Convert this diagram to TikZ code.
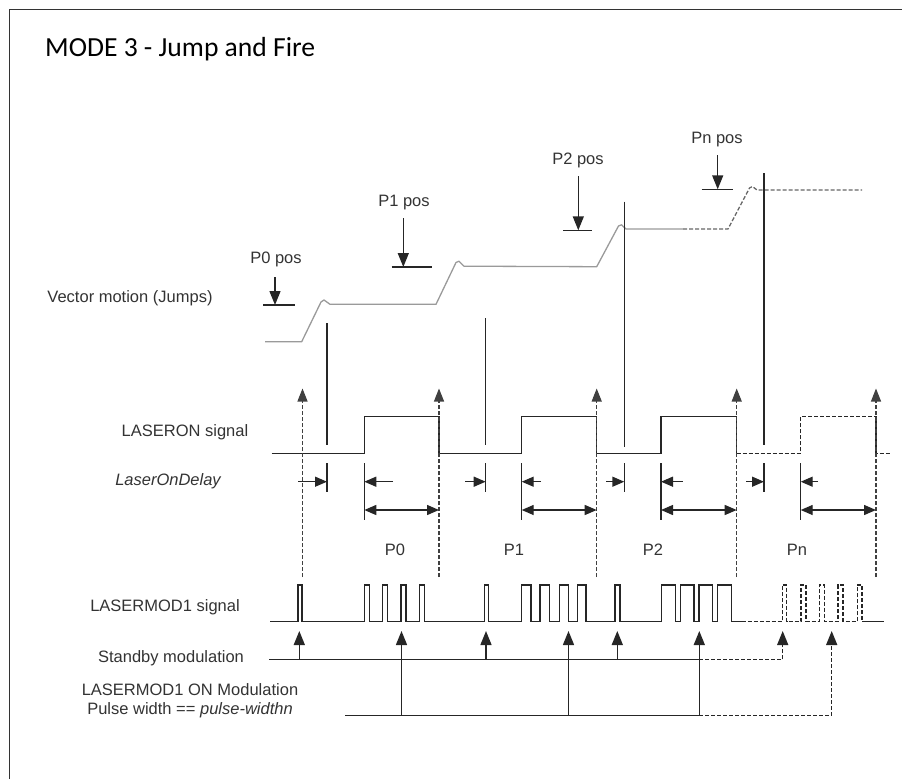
\documentclass[tikz,border=0pt]{standalone}
\usepackage{fontspec}
\setmainfont{Liberation Sans}
\newfontfamily\titlefont{Carlito}
\usetikzlibrary{arrows.meta}
\definecolor{txt}{HTML}{333333}
\definecolor{curve}{HTML}{9A9A9A}
\tikzset{
  sig/.style={line width=1.4pt, draw=black!85},
  dsig/.style={sig, dash pattern=on 4pt off 2pt},
  vec/.style={line width=1.3pt, draw=curve, line join=round},
  dvec/.style={line width=1.3pt, draw=black!60, dash pattern=on 4pt off 2pt},
  uparr/.style={sig, -{Triangle[length=14pt,width=11pt]}},
  duparr/.style={dsig, -{Triangle[length=14pt,width=11pt]}},
  posarr/.style={sig, -{Triangle[length=14pt,width=11pt]}},
  darr/.style={sig, -{Triangle[length=12pt,width=10pt]}},
  ddarr/.style={sig, {Triangle[length=12pt,width=10pt]}-{Triangle[length=12pt,width=10pt]}},
  vdash/.style={line width=1.1pt, draw=black!75, dash pattern=on 4pt off 2pt, -{Triangle[length=13pt,width=10pt]}},
  lbl/.style={font=\fontsize{16.5}{19.5}\selectfont, text=txt, inner sep=0pt, anchor=base},
}
\begin{document}
\begin{tikzpicture}[x=1pt,y=-1pt]
\useasboundingbox (0,0) rectangle (902,779);
\draw[line width=1pt, draw=black!80] (9.5,779) -- (9.5,9.5) -- (902,9.5);

% title
\node[inner sep=0pt, anchor=base west, font=\titlefont\fontsize{27.6}{30}\selectfont] (title) at (45,56) {MODE 3 - Jump and Fire};

% labels
\node[lbl] (lvec) at (130,302) {Vector motion (Jumps)};
\node[lbl] (lon) at (185,436) {LASERON signal};
\node[lbl] (ldelay) at (168,485) {\itshape LaserOnDelay};
\node[lbl] (lmod) at (165,611) {LASERMOD1 signal};
\node[lbl] (lstb) at (171,662.5) {Standby modulation};
\node[lbl] (lonm) at (190,695) {LASERMOD1 ON Modulation};
\node[lbl] (lpw) at (190,714.5) {Pulse width == \textit{pulse-widthn}};

% position labels and markers
\node[lbl] (p0pos) at (276,263.5) {P0 pos};
\node[lbl] (p1pos) at (404,206.8) {P1 pos};
\node[lbl] (p2pos) at (578,164.8) {P2 pos};
\node[lbl] (pnpos) at (717,143.5) {Pn pos};
\coordinate (a0) at (275,277); \coordinate (b0) at (275,305);
\coordinate (a1) at (403.3,218); \coordinate (b1) at (403.3,267);
\coordinate (a2) at (578.3,176); \coordinate (b2) at (578.3,230.3);
\coordinate (an) at (717.7,155); \coordinate (bn) at (717.7,189.3);
\draw[posarr] (a0) -- (b0);
\draw[posarr] (a1) -- (b1);
\draw[posarr] (a2) -- (b2);
\draw[posarr] (an) -- (bn);
\draw[sig] (263,305) -- (295,305);
\draw[sig] (391.7,267) -- (431.7,267);
\draw[sig] (563,230.3) -- (592,230.3);
\draw[sig] (701.7,189.3) -- (732.7,189.3);

% vector motion curve
\draw[vec] (265,341.7) -- (301.7,341.7) -- (321,302) -- (324,300) -- (330,304.3) -- (436,304.3)
  -- (456,262.5) -- (459,261.2) -- (464,266.2) -- (596.7,266.7)
  -- (618.5,226) -- (621.5,224.8) -- (626,229) -- (683,229);
\draw[dvec] (683,229) -- (728,229) -- (749.5,188) -- (752.5,186.5) -- (757,190) -- (862,190);

% long vertical lines
\draw[sig] (327,323.3) -- (327,445);
\draw[sig] (485.7,318.3) -- (485.7,445);
\draw[sig] (624.3,201.7) -- (624.3,446.5);
\draw[sig] (764,173) -- (764,445);

% LASERON signal
\draw[sig] (271.7,453.3) -- (364.3,453.3) -- (364.3,416.7) -- (439,416.7) -- (439,453.3)
  -- (521.7,453.3) -- (521.7,416.7) -- (596.7,416.7) -- (596.7,453.3)
  -- (661,453.3) -- (661,416.7) -- (736.7,416.7) -- (736.7,453.3);
\draw[dsig] (736.7,453.3) -- (800.7,453.3) -- (800.7,416.7) -- (876,416.7) -- (876,453.3) -- (890,453.3);

% dashed vertical arrows
\foreach \x in {302.5,439,596.7,736.7,876}
  \draw[vdash] (\x,577) -- (\x,388.5);

% delay ticks and arrows
\foreach \x in {327,485.7,624.3,764}
  \draw[sig] (\x,463) -- (\x,492);
\foreach \x in {364.3,521.7,661,800.7}
  \draw[sig] (\x,463) -- (\x,520);
\draw[darr] (298,481.7) -- (327,481.7);
\draw[darr] (465,481.7) -- (485.7,481.7);
\draw[darr] (606,481.7) -- (624.3,481.7);
\draw[darr] (746,481.7) -- (764,481.7);
\draw[darr] (393,481.7) -- (364.3,481.7);
\draw[darr] (541,481.7) -- (521.7,481.7);
\draw[darr] (682.7,481.7) -- (661,481.7);
\draw[darr] (818,481.7) -- (800.7,481.7);
\draw[ddarr] (364.3,510) -- (439,510);
\draw[ddarr] (521.7,510) -- (596.7,510);
\draw[ddarr] (661,510) -- (736.7,510);
\draw[ddarr] (800.7,510) -- (876,510);

\node[lbl] (lp0) at (395,555) {P0};
\node[lbl] (lp1) at (514,555) {P1};
\node[lbl] (lp2) at (653,555) {P2};
\node[lbl] (lpn) at (797,555) {Pn};

% LASERMOD1 signal
\draw[sig, line join=miter] (270,621.5)
  foreach \s/\e in {298/302,364.3/369.3,382.7/387.7,401/406,419.3/424.3,484.5/488.5,
     521.7/531,540/549.3,559.3/568.3,577.3/586,615/620,
     661.7/675.7,680.7/694,699/712.7,717.7/731.7}
  { -- (\s,621.5) -- (\s,585) -- (\e,585) -- (\e,621.5) } -- (741.7,621.5);
\draw[dsig] (741.7,621.5)
  foreach \s/\e in {782.5/786.5,801/806,819.5/824.5,838/843,857.5/862}
  { -- (\s,621.5) -- (\s,585) -- (\e,585) -- (\e,621.5) };
\draw[sig] (862,621.5) -- (884,621.5);

% standby modulation
\draw[sig] (269.3,659.3) -- (699.3,659.3);
\draw[dsig] (699.3,659.3) -- (782.7,659.3);
\draw[duparr] (782.7,659.3) -- (782.7,631);
\foreach \x in {299.3,486,617.3}
  \draw[uparr] (\x,659.3) -- (\x,631);

% ON modulation
\draw[sig] (345,715.7) -- (699.3,715.7);
\draw[dsig] (699.3,715.7) -- (831.7,715.7);
\draw[duparr] (831.7,715.7) -- (831.7,631);
\foreach \x in {401.5,568.5,699.3}
  \draw[uparr] (\x,715.7) -- (\x,631);
\end{tikzpicture}
\end{document}
